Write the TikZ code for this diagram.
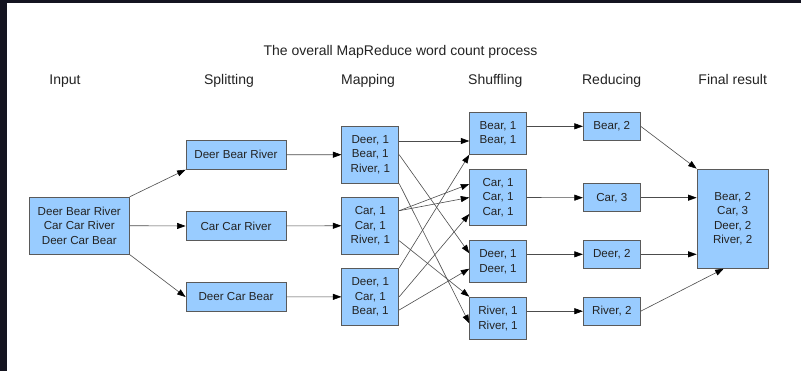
\documentclass[tikz,border=0pt]{standalone}
\usepackage{fontspec}
\setmainfont{Liberation Sans}
\usetikzlibrary{arrows.meta}
\definecolor{boxfill}{RGB}{153,204,255}
\definecolor{boxline}{RGB}{90,90,90}
\definecolor{txt}{RGB}{35,35,35}
\definecolor{frame}{RGB}{20,20,32}
\tikzset{
  box/.style={draw=boxline, fill=boxfill, line width=0.8pt, inner sep=0pt,
    align=center, text=txt, font=\fontsize{11.6}{14.6}\selectfont},
  head/.style={text=txt, font=\fontsize{14}{16}\selectfont,
    text height=10pt, text depth=3pt},
  flow/.style={draw=black!70, line width=0.6pt,
    -{Triangle[length=8.5pt,width=6pt,black]}}
}
\begin{document}
\begin{tikzpicture}[x=1pt,y=-1pt]
      \fill[frame] (0,0) rectangle (801,371);
      \fill[white] (7,3) rectangle (801,371);
      \useasboundingbox (0,0) rectangle (801,371);
      \draw
        (400.5,52) node[head] (title){The overall MapReduce word count process}
        (65,81) node[head] (hin){Input}
        (229,81) node[head] (hsp){Splitting}
        (368,81) node[head] (hmap){Mapping}
        (495.3,81) node[head] (hsh){Shuffling}
        (611.7,81) node[head] (hrd){Reducing}
        (732.7,81) node[head] (hfin){Final result}
        (79.3,225.7) node[box, minimum width=100pt, minimum height=57pt] (in){Deer Bear River\\Car Car River\\Deer Car Bear}
        (236,154.8) node[box, minimum width=100pt, minimum height=29pt] (sp1){Deer Bear River}
        (236,226) node[box, minimum width=100pt, minimum height=29pt] (sp2){Car Car River}
        (236,297) node[box, minimum width=100pt, minimum height=29pt] (sp3){Deer Car Bear}
        (370.3,154.7) node[box, minimum width=57pt, minimum height=57pt] (map1){Deer, 1\\Bear, 1\\River, 1}
        (370.3,225.7) node[box, minimum width=57pt, minimum height=57pt] (map2){Car, 1\\Car, 1\\River, 1}
        (370.3,296.8) node[box, minimum width=57pt, minimum height=57pt] (map3){Deer, 1\\Car, 1\\Bear, 1}
        (498,133.3) node[box, minimum width=56.6pt, minimum height=42pt] (sh1){Bear, 1\\Bear, 1}
        (498,197.5) node[box, minimum width=56.6pt, minimum height=56.4pt] (sh2){Car, 1\\Car, 1\\Car, 1}
        (498,261.5) node[box, minimum width=56.6pt, minimum height=42.4pt] (sh3){Deer, 1\\Deer, 1}
        (498,318.3) node[box, minimum width=56.6pt, minimum height=42.4pt] (sh4){River, 1\\River, 1}
        (611.8,126.3) node[box, minimum width=57pt, minimum height=28pt] (rd1){Bear, 2}
        (611.8,197.7) node[box, minimum width=57pt, minimum height=28pt] (rd2){Car, 3}
        (611.8,254.3) node[box, minimum width=57pt, minimum height=28pt] (rd3){Deer, 2}
        (611.8,311.2) node[box, minimum width=57pt, minimum height=28pt] (rd4){River, 2}
        (732.7,218.7) node[box, minimum width=71.3pt, minimum height=99.3pt] (fin){Bear, 2\\Car, 3\\Deer, 2\\River, 2};
      \begin{scope}[flow]
        \draw (in.north east) to (sp1.south west);
        \draw (in.east) to (sp2.west);
        \draw (in.south east) to (sp3.west);
        \draw (sp1) to (map1);
        \draw (sp2) to (map2);
        \draw (sp3) to (map3);
        \draw ([yshift=13.7pt]map1.east) to ([yshift=-7.7pt]sh1.west);
        \draw (map1.east) to ([yshift=8.2pt]sh3.west);
        \draw (map1.south east) to ([yshift=-5pt]sh4.west);
        \draw ([yshift=15pt]map2.east) to ([yshift=13.5pt]sh2.west);
        \draw ([yshift=15pt]map2.east) to (sh2.west);
        \draw ([yshift=-15pt]map2.east) to (sh4.north west);
        \draw (map3.north east) to (sh1.south west);
        \draw (map3.east) to ([yshift=-16.5pt]sh2.west);
        \draw ([yshift=-13.2pt]map3.east) to ([yshift=-7.2pt]sh3.west);
        \draw ([yshift=7pt]sh1.east) to (rd1.west);
        \draw (sh2.east) to (rd2.west);
        \draw ([yshift=7.2pt]sh3.east) to (rd3.west);
        \draw ([yshift=7.1pt]sh4.east) to (rd4.west);
        \draw (rd1.east) to (fin.north west);
        \draw (rd2.east) to ([yshift=21pt]fin.west);
        \draw (rd3.east) to ([yshift=-35.6pt]fin.west);
        \draw (rd4.east) to ([xshift=-9pt]fin.south);
      \end{scope}
    \end{tikzpicture}
\end{document}
